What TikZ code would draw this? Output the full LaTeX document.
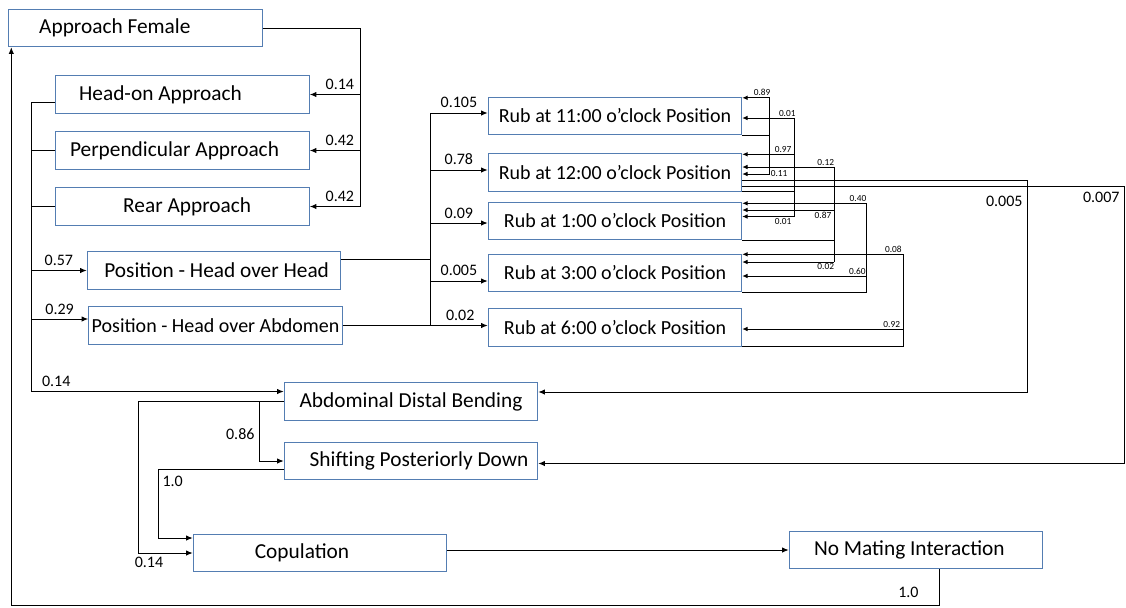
\documentclass[tikz,border=0pt]{standalone}
\usepackage{fontspec}
\setmainfont{Carlito}
\usepackage{tikz}
\usetikzlibrary{positioning,arrows.meta,calc}
\definecolor{boxline}{RGB}{84,125,178}

\begin{document}
\begin{tikzpicture}[
    x=0.75pt, y=-0.75pt,
    font=\fontsize{16}{19}\selectfont,
    box/.style={draw=boxline, line width=0.8pt, minimum width=190pt,
      minimum height=28pt, inner xsep=1pt, inner ysep=2pt},
    rubbox/.style={box, font=\fontsize{15}{18}\selectfont},
    ln/.style={line width=0.75pt},
    arr/.style={-{Latex[length=5pt,width=4pt]}, line width=0.75pt},
    tarr/.style={-{Latex[length=4pt,width=3.5pt]}, line width=0.75pt},
    lab/.style={font=\fontsize{12}{14}\selectfont, inner sep=3pt},
    tlab/.style={font=\fontsize{7}{8}\selectfont, inner sep=1pt}
]
\useasboundingbox (0,0) rectangle (1126,607);

\node[box] (af)     at (135.5,28)   {Approach Female\hspace{31pt}\null};
\node[box] (head)   at (182.5,94.5) {Head-on Approach\hspace{33pt}\null};
\node[box] (perp)   at (182.5,150.5) {Perpendicular Approach\hspace{12pt}\null};
\node[box] (rear)   at (182.5,206.5) {\hspace{7pt}Rear Approach};
\node[box] (hoh)    at (214,270.5)  {\hspace{4pt}Position - Head over Head};
\node[rubbox] (hoa) at (215.5,325.5) {Position - Head over Abdomen};
\node[rubbox] (r11) at (615,116)    {Rub at 11:00 o’clock Position};
\node[rubbox] (r12) at (615,172.5)  {Rub at 12:00 o’clock Position};
\node[rubbox] (r1)  at (615,221)    {Rub at 1:00 o’clock Position};
\node[rubbox] (r3)  at (615,273)    {Rub at 3:00 o’clock Position};
\node[rubbox] (r6)  at (615,327.5)  {Rub at 6:00 o’clock Position};
\node[box] (adb)    at (411,401.5)  {Abdominal Distal Bending};
\node[box] (spd)    at (411,461)    {\hspace{12pt}Shifting Posteriorly Down};
\node[box] (cop)    at (320,553)    {Copulation\hspace{27pt}\null};
\node[box] (nomate) at (916,550)    {No Mating Interaction\hspace{10pt}\null};

\coordinate (abus)  at (360,0);
\coordinate (lbus)  at (31,0);
\coordinate (rbus)  at (430,0);
\coordinate (busA)  at (769,0);
\coordinate (busB)  at (794,0);
\coordinate (busC)  at (834,0);
\coordinate (busD)  at (866,0);
\coordinate (busE)  at (903,0);
\coordinate (busF)  at (1027,0);
\coordinate (busG)  at (1124,0);
\coordinate (dbus1) at (138,0);
\coordinate (dbus2) at (259,0);
\coordinate (sbus)  at (158,0);
\coordinate (bot)   at (0,605);

\draw[ln] (af.east) -| (abus |- rear.east);
\draw[arr] (abus |- head.east) -- node[lab, above, pos=0.4]{0.14} (head.east);
\draw[arr] (abus |- perp.east) -- node[lab, above, pos=0.4]{0.42} (perp.east);
\draw[arr] (abus |- rear.east) -- node[lab, above, pos=0.4]{0.42} (rear.east);

\coordinate (headout) at ($(head.west)+(0,8)$);
\coordinate (hoain)   at ($(hoa.west)+(0,-6.5)$);
\coordinate (adbin)   at ($(adb.west)+(0,-10)$);
\draw[ln] (headout) -| (lbus |- adbin);
\draw[ln] (perp.west) -- (lbus |- perp.west);
\draw[ln] (rear.west) -- (lbus |- rear.west);
\draw[arr] (lbus |- hoh.west) -- node[lab, above]{0.57} (hoh.west);
\draw[arr] (lbus |- hoain) -- node[lab, above]{0.29} (hoain);
\draw[arr] (lbus |- adbin) -- node[lab, above, pos=0.1]{0.14} (adbin);

\coordinate (hohout) at ($(hoh.east)+(0,-11.5)$);
\coordinate (r11in)  at ($(r11.west)+(0,-3)$);
\coordinate (r12in)  at ($(r12.west)+(0,-2.5)$);
\coordinate (r1in)   at ($(r1.west)+(0,2)$);
\coordinate (r3in)   at ($(r3.west)+(0,8)$);
\draw[ln] (hohout) -- (rbus |- hohout);
\draw[ln] (rbus |- r11in) -- (rbus |- hoa.east);
\draw[arr] (rbus |- r11in) -- node[lab, above=1pt]{0.105} (r11in);
\draw[arr] (rbus |- r12in) -- node[lab, above=1pt]{0.78} (r12in);
\draw[arr] (rbus |- r1in) -- node[lab, above]{0.09} (r1in);
\draw[arr] (rbus |- r3in) -- node[lab, above=1pt]{0.005} (r3in);
\draw[arr] (hoa.east) -- node[lab, above, pos=0.81]{0.02} (r6.west |- hoa.east);

\coordinate (i89) at ($(r11.north east)+(0,1)$);
\coordinate (i11) at ($(r12.east)+(0,1.5)$);
\draw[ln] (r11.south east) -- (busA |- r11.south east);
\draw[tarr] (busA |- i11) -- (busA |- i89) -- node[tlab, above, pos=0.26]{0.89} (i89);
\draw[tarr] (busA |- r11.south east) |- node[tlab, right, pos=0.5]{0.11} (i11);

\coordinate (i01a) at ($(r11.east)+(0,2)$);
\coordinate (i97)  at ($(r12.north east)+(0,1)$);
\coordinate (i01b) at ($(r1.east)+(0,-4.5)$);
\draw[ln] (r12.south east) -- (busB |- r12.south east);
\draw[ln] (busB |- i01a) -- (busB |- i01b);
\draw[tarr] (busB |- i01a) -- node[tlab, above, pos=0.13]{0.01} (i01a);
\draw[tarr] (busB |- i97) -- node[tlab, above, pos=0.21]{0.97} (i97);
\draw[tarr] (busB |- i01b) -- node[tlab, below, pos=0.21]{0.01} (i01b);

\coordinate (i12) at ($(r12.east)+(0,-5.5)$);
\coordinate (i87) at ($(r1.east)+(0,-11)$);
\coordinate (i02) at ($(r3.east)+(0,-11)$);
\draw[ln] (r1.south east) -- (busC |- r1.south east);
\draw[ln] (busC |- i12) -- (busC |- i02);
\draw[tarr] (busC |- i12) -- node[tlab, above, pos=0.09]{0.12} (i12);
\draw[tarr] (busC |- i87) -- node[tlab, below, pos=0.12]{0.87} (i87);
\draw[tarr] (busC |- i02) -- node[tlab, below, pos=0.09]{0.02} (i02);

\coordinate (i40) at ($(r1.north east)+(0,1.5)$);
\coordinate (i60) at ($(r3.east)+(0,3)$);
\draw[ln] (r3.south east) -| (busD |- i40);
\draw[tarr] (busD |- i40) -- node[tlab, above, pos=0.065]{0.40} (i40);
\draw[tarr] (busD |- i60) -- node[tlab, above, pos=0.07]{0.60} (i60);

\coordinate (i08) at ($(r3.north east)+(0,0.5)$);
\coordinate (i92) at ($(r6.east)+(0,1.5)$);
\draw[ln] (r6.south east) -| (busE |- i08);
\draw[tarr] (busE |- i08) -- node[tlab, above, pos=0.06]{0.08} (i08);
\draw[tarr] (busE |- i92) -- node[tlab, above, pos=0.07]{0.92} (i92);

\coordinate (o5)   at ($(r12.east)+(0,8)$);
\coordinate (o7)   at ($(r12.east)+(0,13.5)$);
\coordinate (adbr) at ($(adb.east)+(0,-9.5)$);
\coordinate (spdr) at ($(spd.east)+(0,2.5)$);
\draw[arr] (o5) -| node[lab, left, pos=0.55]{0.005} (busF |- adbr) -- (adbr);
\draw[arr] (o7) -| node[lab, left, pos=0.52]{0.007} (busG |- spdr) -- (spdr);

\coordinate (spdout) at ($(spd.west)+(0,8)$);
\coordinate (copin)  at ($(cop.west)+(0,-15)$);
\draw[arr] (adb.west) -| (dbus1 |- cop.west) -- node[lab, below, pos=0.2]{0.14} (cop.west);
\draw[arr] (dbus2 |- adb.west) |- node[lab, left, pos=0.27]{0.86} (spd.west);
\draw[arr] (spdout) -| node[lab, right, pos=0.59]{1.0} (sbus |- copin) -- (copin);

\draw[arr] (cop.east |- nomate.west) -- (nomate.west);
\coordinate (nmout) at ($(nomate.south)+(23,0)$);
\coordinate (afin)  at ($(af.south west)+(3,0)$);
\draw[arr] (nmout) -- node[lab, left=12pt, pos=0.65]{1.0} (nmout |- bot) -| (afin);
\end{tikzpicture}
\end{document}
